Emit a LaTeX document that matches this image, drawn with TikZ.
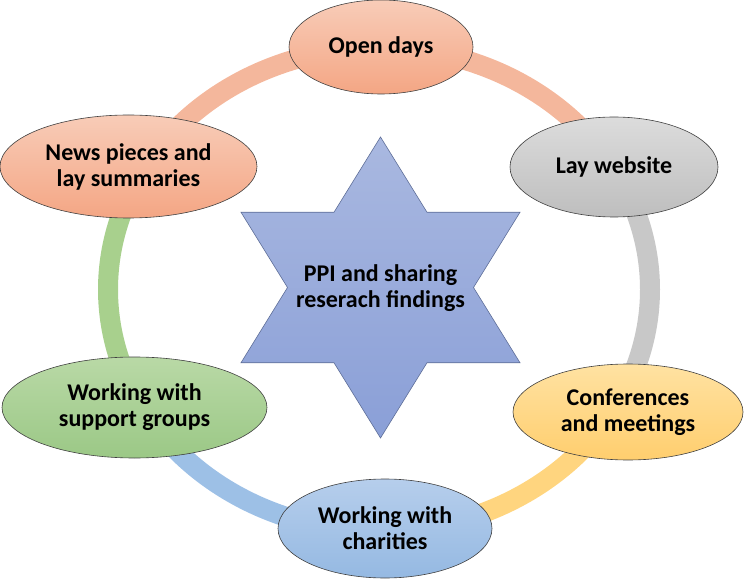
\documentclass[tikz,border=0pt]{standalone}
\usepackage{fontspec}
\setmainfont{Carlito}
\usetikzlibrary{shapes.geometric}
\definecolor{salTop}{HTML}{F8CCB8}
\definecolor{salBot}{HTML}{F4A684}
\definecolor{salRing}{HTML}{F4B79C}
\definecolor{grayTop}{HTML}{DCDCDC}
\definecolor{grayBot}{HTML}{BEBEBE}
\definecolor{grayRing}{HTML}{C8C8C8}
\definecolor{yelTop}{HTML}{FFE2A2}
\definecolor{yelBot}{HTML}{FFCE6E}
\definecolor{yelRing}{HTML}{FFD57F}
\definecolor{bluTop}{HTML}{B6CEEC}
\definecolor{bluBot}{HTML}{95B9E2}
\definecolor{bluRing}{HTML}{9DC0E6}
\definecolor{grnTop}{HTML}{B9D9A6}
\definecolor{grnBot}{HTML}{9BC886}
\definecolor{grnRing}{HTML}{A8D08D}
\definecolor{starTop}{HTML}{A9B8E0}
\definecolor{starBot}{HTML}{8A9FD7}
\definecolor{starEdge}{HTML}{5E6E98}
\begin{document}
\begin{tikzpicture}[x=1pt,y=1pt,
  bub/.style={ellipse, draw=black!75, line width=0.6pt, align=center,
    font=\bfseries\fontsize{24}{26}\selectfont, inner sep=0pt},
  ringseg/.style={line width=20pt},
  lbl/.style={align=center, font=\bfseries\fontsize{24}{26}\selectfont, inner sep=0pt}]
\useasboundingbox (0,0) rectangle (744,579);
\coordinate (C) at (379,289.5);
% ring
\draw[ringseg, salRing] ([shift={(90:271 and 242)}]C) arc[start angle=90, end angle=30, x radius=271pt, y radius=242pt];
\draw[ringseg, grayRing] ([shift={(30:271 and 242)}]C) arc[start angle=30, end angle=-30, x radius=271pt, y radius=242pt];
\draw[ringseg, yelRing] ([shift={(-30:271 and 242)}]C) arc[start angle=-30, end angle=-90, x radius=271pt, y radius=242pt];
\draw[ringseg, bluRing] ([shift={(-90:271 and 242)}]C) arc[start angle=-90, end angle=-150, x radius=271pt, y radius=242pt];
\draw[ringseg, grnRing] ([shift={(-150:271 and 242)}]C) arc[start angle=-150, end angle=-210, x radius=271pt, y radius=242pt];
\draw[ringseg, salRing] ([shift={(150:271 and 242)}]C) arc[start angle=150, end angle=90, x radius=271pt, y radius=242pt];
% star
\path[draw=starEdge, line width=0.6pt, top color=starTop, bottom color=starBot]
  (380.5,442) -- (427,366.75) -- (520,366.75) -- (473.5,291.5) -- (520,216.25)
  -- (427,216.25) -- (380.5,141) -- (334,216.25) -- (241,216.25) -- (287.5,291.5)
  -- (241,366.75) -- (334,366.75) -- cycle;
\node[lbl] (star) at (380.5,291) {PPI and sharing\\reserach findings};
% bubbles
\node[bub, minimum width=184pt, minimum height=94pt, top color=salTop, bottom color=salBot] (open) at (381,532) {Open days};
\node[bub, minimum width=257pt, minimum height=103pt, top color=salTop, bottom color=salBot] (news) at (128.5,412.5) {News pieces and\\lay summaries};
\node[bub, minimum width=208pt, minimum height=100pt, top color=grayTop, bottom color=grayBot] (lay) at (614,412) {Lay website};
\node[bub, minimum width=265pt, minimum height=101pt, top color=grnTop, bottom color=grnBot] (support) at (134.5,171.5) {Working with\\support groups};
\node[bub, minimum width=230pt, minimum height=96pt, top color=yelTop, bottom color=yelBot] (conf) at (628,167) {Conferences\\and meetings};
\node[bub, minimum width=214pt, minimum height=99pt, top color=bluTop, bottom color=bluBot] (char) at (385,50.5) {Working with\\charities};
\end{tikzpicture}
\end{document}
